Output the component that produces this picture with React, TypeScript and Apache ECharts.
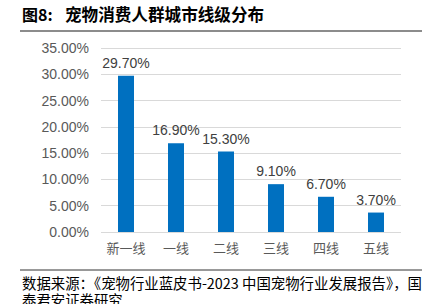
import React, { useEffect, useRef } from "react";
import * as echarts from "echarts";

const categories = ["新一线", "一线", "二线", "三线", "四线", "五线"];
const values = [29.7, 16.9, 15.3, 9.1, 6.7, 3.7];
const yTicks = [0, 5, 10, 15, 20, 25, 30, 35];
const titlePrefix = "图8:";
const titleText = "宠物消费人群城市线级分布";
const sourceLine1 = "数据来源：《宠物行业蓝皮书-2023 中国宠物行业发展报告》，国";
const sourceLine2 = "泰君安证券研究";

export default function App() {
  const ref = useRef<HTMLDivElement>(null);
  useEffect(() => {
    if (!ref.current) return;
    const chart = echarts.init(ref.current, null, { renderer: "svg" });
    chart.setOption({
      animation: false,
      backgroundColor: "#ffffff",
      grid: { left: 101, right: 30, top: 48, bottom: 72 },
      xAxis: {
        type: "category",
        data: categories,
        axisLine: { show: false },
        axisTick: { show: false },
        axisLabel: {
          interval: 0,
          color: "#595959",
          fontSize: 13,
          fontFamily: "Noto Sans CJK SC",
          margin: 9,
        },
      },
      yAxis: {
        type: "value",
        min: yTicks[0],
        max: yTicks[yTicks.length - 1],
        interval: 5,
        axisLine: { show: false },
        axisTick: { show: false },
        splitLine: { lineStyle: { color: "#d9d9d9", width: 1 } },
        axisLabel: {
          color: "#595959",
          fontSize: 14,
          fontFamily: "Liberation Sans, Arial, sans-serif",
          margin: 12,
          formatter: (v: number) => v.toFixed(2) + "%",
        },
      },
      series: [
        {
          type: "bar",
          data: values,
          barWidth: 16,
          itemStyle: { color: "#0070C0" },
          label: {
            show: true,
            position: "top",
            distance: 6,
            color: "#404040",
            fontSize: 14,
            fontFamily: "Liberation Sans, Arial, sans-serif",
            formatter: (p: any) => p.value.toFixed(2) + "%",
          },
        },
      ],
      graphic: [
        {
          type: "text",
          left: 22,
          top: 6,
          style: {
            text: titlePrefix,
            font: "bold 16px 'Noto Sans CJK SC'",
            fill: "#000000",
          },
        },
        {
          type: "text",
          left: 65,
          top: 6,
          style: {
            text: titleText,
            font: "bold 16.6px 'Noto Sans CJK SC'",
            fill: "#000000",
          },
        },
        {
          type: "line",
          shape: { x1: 20, y1: 31, x2: 422, y2: 31 },
          style: { stroke: "#8c8c8c", lineWidth: 2 },
        },
        {
          type: "line",
          shape: { x1: 20, y1: 270, x2: 422, y2: 270 },
          style: { stroke: "#333333", lineWidth: 1 },
        },
        {
          type: "text",
          x: 22,
          y: 282,
          style: {
            text: sourceLine1,
            font: "14.4px 'Noto Sans CJK SC'",
            verticalAlign: "middle",
            fill: "#000000",
          },
        },
        {
          type: "text",
          x: 22,
          y: 299,
          style: {
            text: sourceLine2,
            font: "14.4px 'Noto Sans CJK SC'",
            verticalAlign: "middle",
            fill: "#000000",
          },
        },
      ],
    });
    return () => chart.dispose();
  }, []);
  return (
    <div
      ref={ref}
      style={{ position: "fixed", left: 0, top: 0, width: 431, height: 304 }}
    />
  );
}
